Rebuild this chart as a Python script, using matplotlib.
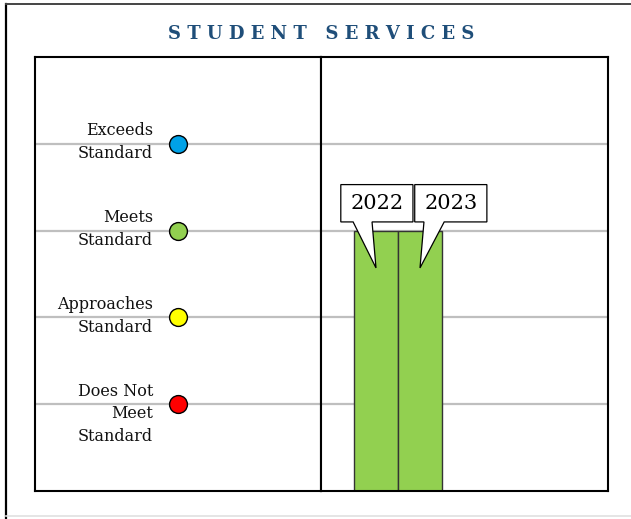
import matplotlib.pyplot as plt
from matplotlib.patches import Polygon
from matplotlib.lines import Line2D

# Data
title = "STUDENT SERVICES"
levels = ["Does Not\nMeet\nStandard", "Approaches\nStandard", "Meets\nStandard", "Exceeds\nStandard"]
level_values = [1, 2, 3, 4]
level_colors = ["#ff0000", "#ffff00", "#92d050", "#00a2e8"]
years = ["2022", "2023"]
scores = [3, 3]

plt.rcParams["font.family"] = ["DejaVu Serif"]

W, H = 631, 519
fig = plt.figure(figsize=(W / 100, H / 100), dpi=100)

def fx(px):
    return px / W

def fy(py):
    return 1 - py / H

# outer frame
fig.add_artist(Line2D([fx(6), fx(6)], [fy(4), fy(519)], color="black", lw=1.6))
fig.add_artist(Line2D([fx(6), fx(631)], [fy(4), fy(4)], color="#444444", lw=1.4))
fig.add_artist(Line2D([fx(6), fx(631)], [fy(516), fy(516)], color="#e0e0e0", lw=1.2))

spaced = "   ".join(" ".join(w) for w in title.split())
fig.text(fx(321), fy(34), spaced, ha="center", va="center",
         fontsize=13, fontweight="bold", color="#1f4e79")

bottom, top = fy(491), fy(57)
ax_l = fig.add_axes([fx(35), bottom, fx(321) - fx(35), top - bottom])
ax_r = fig.add_axes([fx(321), bottom, fx(608) - fx(321), top - bottom])

for ax in (ax_l, ax_r):
    ax.set_ylim(0, 5)
    ax.set_xticks([])
    ax.set_yticks([])
    for s in ax.spines.values():
        s.set_linewidth(1.5)
        s.set_color("black")
    for v in level_values:
        ax.axhline(v, color="#bfbfbf", lw=1.6, zorder=0)

# left panel: level labels and dots
ax_l.set_xlim(0, 286)
for lab, v, c in zip(levels, level_values, level_colors):
    ax_l.scatter(143, v, s=165, color=c, edgecolor="black", linewidth=1, zorder=3)
    ax_l.text(118, v + 0.25, lab, ha="right", va="top", fontsize=11.5,
              linespacing=1.45, color="#111111")

# right panel: bars
ax_r.set_xlim(-1.25, -1.25 + 287 / 44)
x = list(range(len(years)))
ax_r.bar(x, scores, width=1, color="#92d050", edgecolor="#333333", linewidth=1, zorder=2)

# callouts
box_offsets = [0.02, 1.70]
tail_bases = [(-0.52, -0.09), (1.09, 1.55)]
bw, bh = 1.64, 0.43
for xi, yr, sc, off, (t0, t1) in zip(x, years, scores, box_offsets, tail_bases):
    tip_y = sc - 0.43
    b0 = sc + 0.10
    cx = off
    pts = [(cx - bw / 2, b0), (t0, b0), (xi, tip_y), (t1, b0),
           (cx + bw / 2, b0), (cx + bw / 2, b0 + bh), (cx - bw / 2, b0 + bh)]
    ax_r.add_patch(Polygon(pts, closed=True, facecolor="white", edgecolor="black",
                           linewidth=0.9, zorder=4))
    ax_r.text(cx, b0 + bh / 2, yr, ha="center", va="center", fontsize=15, zorder=5)

fig.savefig("out.png", dpi=100)
